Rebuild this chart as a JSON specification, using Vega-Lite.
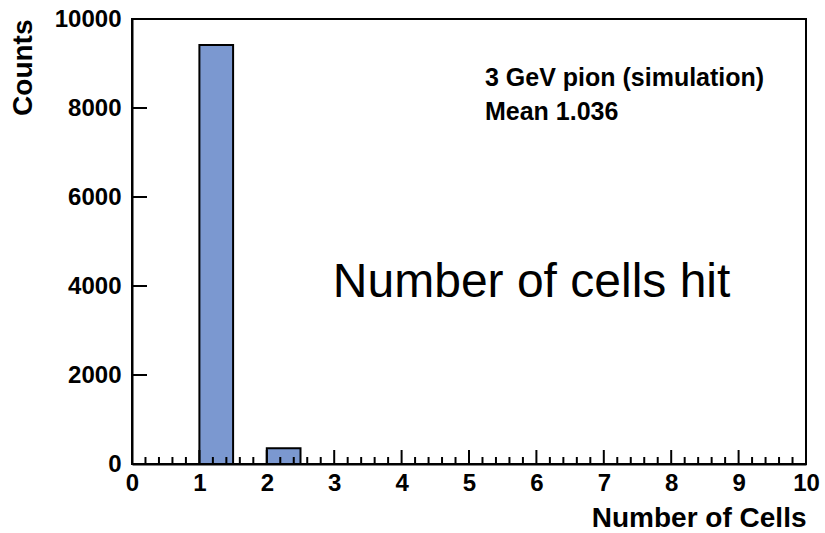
{
  "$schema": "https://vega.github.io/schema/vega-lite/v6.json",
  "autosize": {"type": "none"},
  "padding": {"left": 132, "top": 19, "right": 19, "bottom": 69},
  "width": 674,
  "height": 445,
  "background": "white",
  "config": {
    "view": {"stroke": "black", "strokeWidth": 2},
    "font": "Liberation Sans",
    "axis": {"grid": false}
  },
  "datasets": {
    "bins": [
      {"bin_start": 1, "bin_end": 1.5, "count": 9414},
      {"bin_start": 2, "bin_end": 2.5, "count": 354}
    ],
    "notes": [
      {"x": 5.237, "y": 8494, "text": "3 GeV pion (simulation)"},
      {"x": 5.237, "y": 7730, "text": "Mean 1.036"}
    ],
    "big": [
      {"x": 2.98, "y": 3753, "text": "Number of cells hit"}
    ],
    "xmajor": [{"v": 1}, {"v": 2}, {"v": 3}, {"v": 4}, {"v": 5}, {"v": 6}, {"v": 7}, {"v": 8}, {"v": 9}],
    "xminor": [{"v":0.2},{"v":0.4},{"v":0.6},{"v":0.8},{"v":1.2},{"v":1.4},{"v":1.6},{"v":1.8},{"v":2.2},{"v":2.4},{"v":2.6},{"v":2.8},{"v":3.2},{"v":3.4},{"v":3.6},{"v":3.8},{"v":4.2},{"v":4.4},{"v":4.6},{"v":4.8},{"v":5.2},{"v":5.4},{"v":5.6},{"v":5.8},{"v":6.2},{"v":6.4},{"v":6.6},{"v":6.8},{"v":7.2},{"v":7.4},{"v":7.6},{"v":7.8},{"v":8.2},{"v":8.4},{"v":8.6},{"v":8.8},{"v":9.2},{"v":9.4},{"v":9.6},{"v":9.8}],
    "ymajor": [{"v": 2000}, {"v": 4000}, {"v": 6000}, {"v": 8000}]
  },
  "layer": [
    {
      "data": {"name": "bins"},
      "mark": {"type": "rect", "fill": "#7B98D0", "stroke": "black", "strokeWidth": 2},
      "encoding": {
        "x": {
          "field": "bin_start", "type": "quantitative",
          "scale": {"domain": [0, 10], "nice": false, "zero": false},
          "axis": {
            "orient": "bottom",
            "title": "Number of Cells",
            "titleFont": "Liberation Sans", "titleFontSize": 28, "titleFontWeight": "bold",
            "titleColor": "black", "titleAnchor": "end", "titlePadding": 9,
            "values": [0, 1, 2, 3, 4, 5, 6, 7, 8, 9, 10],
            "format": "d",
            "ticks": false,
            "domainColor": "black", "domainWidth": 2,
            "labelFont": "Liberation Sans", "labelFontSize": 24, "labelFontWeight": "bold", "labelColor": "black",
            "labelPadding": 7, "labelOverlap": false, "labelFlush": false,
            "zindex": 1
          }
        },
        "x2": {"field": "bin_end"},
        "y": {
          "field": "count", "type": "quantitative",
          "scale": {"domain": [0, 10000], "nice": false},
          "axis": {
            "orient": "left",
            "title": "Counts",
            "titleFont": "Liberation Sans", "titleFontSize": 28, "titleFontWeight": "bold",
            "titleColor": "black", "titleAnchor": "end", "titlePadding": 17,
            "values": [0, 2000, 4000, 6000, 8000, 10000],
            "format": "d",
            "ticks": false,
            "domainColor": "black", "domainWidth": 2,
            "labelFont": "Liberation Sans", "labelFontSize": 24, "labelFontWeight": "bold", "labelColor": "black",
            "labelPadding": 11, "labelOverlap": false,
            "zindex": 1
          }
        },
        "y2": {"datum": 0}
      }
    },
    {
      "data": {"name": "xmajor"},
      "mark": {"type": "rule", "strokeWidth": 2, "color": "black"},
      "encoding": {
        "x": {"field": "v", "type": "quantitative"},
        "y": {"datum": 0},
        "y2": {"datum": 315}
      }
    },
    {
      "data": {"name": "xminor"},
      "mark": {"type": "rule", "strokeWidth": 2, "color": "black"},
      "encoding": {
        "x": {"field": "v", "type": "quantitative"},
        "y": {"datum": 0},
        "y2": {"datum": 157}
      }
    },
    {
      "data": {"name": "ymajor"},
      "mark": {"type": "rule", "strokeWidth": 2, "color": "black"},
      "encoding": {
        "y": {"field": "v", "type": "quantitative"},
        "x": {"datum": 0},
        "x2": {"datum": 0.223}
      }
    },
    {
      "data": {"name": "notes"},
      "mark": {"type": "text", "align": "left", "baseline": "alphabetic", "font": "Liberation Sans", "fontSize": 25, "fontWeight": "bold", "color": "black"},
      "encoding": {
        "x": {"field": "x", "type": "quantitative"},
        "y": {"field": "y", "type": "quantitative"},
        "text": {"field": "text"}
      }
    },
    {
      "data": {"name": "big"},
      "mark": {"type": "text", "align": "left", "baseline": "alphabetic", "font": "Liberation Sans", "fontSize": 48, "color": "black"},
      "encoding": {
        "x": {"field": "x", "type": "quantitative"},
        "y": {"field": "y", "type": "quantitative"},
        "text": {"field": "text"}
      }
    }
  ]
}
